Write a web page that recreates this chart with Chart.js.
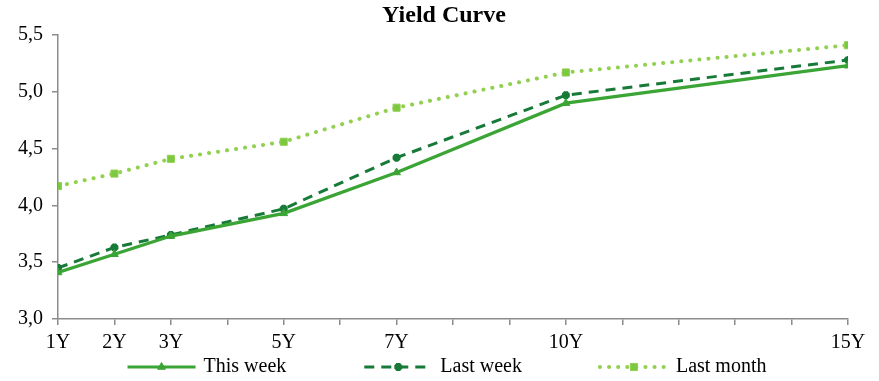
<!DOCTYPE html>
<html>
<head>
<meta charset="utf-8">
<script src="https://cdn.jsdelivr.net/npm/chart.js@4/dist/chart.umd.min.js"></script>
<style>
  html, body { margin: 0; padding: 0; background: #fff; }
  #wrap { width: 879px; height: 381px; }
</style>
</head>
<body>
<div id="wrap"><canvas id="myChart" width="879" height="381"></canvas></div>
<script>
// tenors in years, only these get a label on the x axis
const tenors = [1, 2, 3, 5, 7, 10, 15];
const thisWeek = [3.41, 3.57, 3.73, 3.93, 4.29, 4.90, 5.23];
const lastWeek = [3.45, 3.63, 3.74, 3.97, 4.42, 4.97, 5.28];
const lastMonth = [4.17, 4.28, 4.41, 4.56, 4.86, 5.17, 5.41];
const yTicks = [3.0, 3.5, 4.0, 4.5, 5.0, 5.5];
const chartTitle = 'Yield Curve';

const serif = "'Liberation Serif', 'Times New Roman', serif";
const axisGrey = '#8c8c8c';

function toPoints(vals) {
    return tenors.map((t, i) => ({ x: t, y: vals[i] }));
}

// title over the whole figure (the chart.js title is centred on the padded box)
const topTitle = {
    id: 'topTitle',
    afterDraw(chart) {
        const ctx = chart.ctx;
        ctx.save();
        ctx.font = 'bold 24px ' + serif;
        ctx.fillStyle = '#000';
        ctx.textAlign = 'center';
        ctx.textBaseline = 'middle';
        ctx.fillText(chartTitle, 444, 16);
        ctx.restore();
    }
};

// draws the legend under the axis: line sample + marker + text
const bottomLegend = {
    id: 'bottomLegend',
    afterDraw(chart) {
        const ctx = chart.ctx;
        const sets = chart.data.datasets;
        const sample = 68, gapText = 8, gapItem = 78, y = 367;
        ctx.save();
        ctx.font = '20px ' + serif;
        const widths = sets.map(d => sample + gapText + ctx.measureText(d.label).width);
        const total = widths.reduce((a, b) => a + b, 0) + gapItem * (sets.length - 1);
        let x = 447 - total / 2;
        sets.forEach((d, i) => {
            ctx.save();
            ctx.strokeStyle = d.borderColor;
            ctx.lineWidth = d.borderWidth;
            ctx.setLineDash(d.borderDash || []);
            ctx.lineCap = d.borderCapStyle || 'butt';
            ctx.beginPath();
            ctx.moveTo(x, y);
            ctx.lineTo(x + sample, y);
            ctx.stroke();
            ctx.setLineDash([]);
            ctx.lineCap = 'butt';
            ctx.fillStyle = d.pointBackgroundColor;
            ctx.strokeStyle = d.pointBorderColor;
            ctx.lineWidth = d.pointBorderWidth;
            Chart.helpers.drawPoint(ctx, {
                pointStyle: d.pointStyle, radius: d.pointRadius, rotation: 0, borderWidth: d.pointBorderWidth
            }, x + sample / 2, y);
            ctx.restore();
            ctx.fillStyle = '#000';
            ctx.textBaseline = 'middle';
            ctx.textAlign = 'left';
            ctx.fillText(d.label, x + sample + gapText, y);
            x += widths[i] + gapItem;
        });
        ctx.restore();
    }
};

const ctx = document.getElementById('myChart').getContext('2d');
const myChart = new Chart(ctx, {
    type: 'line',
    data: {
        datasets: [
            {
                label: 'This week',
                data: toPoints(thisWeek),
                borderColor: '#3aa435',
                borderWidth: 3.2,
                pointStyle: 'triangle',
                pointRadius: 4.5,
                pointBackgroundColor: '#3aa435',
                pointBorderColor: '#3aa435',
                pointBorderWidth: 1,
                tension: 0
            },
            {
                label: 'Last week',
                data: toPoints(lastWeek),
                borderColor: '#177a38',
                borderWidth: 3,
                borderDash: [10, 7],
                pointStyle: 'star',
                pointRadius: 4,
                pointBackgroundColor: '#177a38',
                pointBorderColor: '#177a38',
                pointBorderWidth: 3,
                tension: 0
            },
            {
                label: 'Last month',
                data: toPoints(lastMonth),
                borderColor: '#92d050',
                borderWidth: 4,
                borderDash: [0.1, 9],
                borderCapStyle: 'round',
                pointStyle: 'rect',
                pointRadius: 5,
                pointBackgroundColor: '#7cc840',
                pointBorderColor: '#92d050',
                pointBorderWidth: 1,
                tension: 0
            }
        ]
    },
    options: {
        responsive: false,
        animation: false,
        layout: { padding: { left: 0, right: 31, top: 35, bottom: 0 } },
        plugins: {
            legend: { display: false },
            tooltip: { enabled: false },
            title: { display: false }
        },
        scales: {
            x: {
                type: 'linear',
                min: 1,
                max: 15,
                afterFit(scale) { scale.height = 62; },
                afterBuildTicks(scale) {
                    const t = [];
                    for (let v = 1; v <= 15; v++) t.push({ value: v });
                    scale.ticks = t;
                },
                ticks: {
                    autoSkip: false,
                    maxRotation: 0,
                    padding: 6,
                    color: '#000',
                    font: { family: serif, size: 20 },
                    callback: v => tenors.includes(v) ? v + 'Y' : ''
                },
                grid: { drawOnChartArea: false, tickLength: 6, color: axisGrey, lineWidth: 1.5 },
                border: { color: axisGrey, width: 1.5 }
            },
            y: {
                min: 3,
                max: 5.5,
                afterFit(scale) { scale.width = 58; },
                afterBuildTicks(scale) {
                    scale.ticks = yTicks.map(v => ({ value: v }));
                },
                ticks: {
                    padding: 9,
                    color: '#000',
                    font: { family: serif, size: 20 },
                    callback: v => v.toFixed(1).replace('.', ',')
                },
                grid: { drawOnChartArea: false, tickLength: 6, color: axisGrey, lineWidth: 1.5 },
                border: { color: axisGrey, width: 1.5 }
            }
        }
    },
    plugins: [topTitle, bottomLegend]
});
</script>
</body>
</html>
